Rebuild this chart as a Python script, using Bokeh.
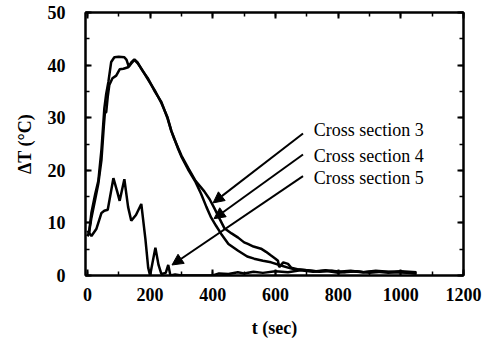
from bokeh.plotting import figure
from bokeh.models import (LinearAxis, Arrow, NormalHead, Label, Range1d,
                          SingleIntervalTicker)
from bokeh.embed import file_html
from bokeh.resources import INLINE

# ---- data ----
t_cs3 = [0, 5, 13, 25, 35, 45, 52, 56, 60, 65, 70, 80, 92, 103, 115, 130, 140, 150,
         160, 175, 194, 215, 236, 255, 268, 277, 290, 300, 321, 345, 373, 390, 405,
         420, 437, 460, 481, 500, 512, 530, 554, 570, 586, 600, 608, 612, 625, 640,
         650, 670, 700, 730, 760, 800, 840, 880, 920, 960, 1000, 1030, 1050]
dT_cs3 = [7.5, 8, 11, 14.5, 17.5, 22, 28, 31, 31, 34, 36.2, 37.5, 38, 39.2, 39.3, 39.6, 40.5, 41.1,
          40.5, 39, 37.4, 35, 33, 30, 27.4, 26, 24.2, 22.8, 20.5, 18, 16, 14.5, 12.8,
          11, 9, 8, 7.2, 6.3, 6, 5.5, 5.1, 4.5, 3.8, 3.2, 2.8, 1.6, 2.5, 2.2,
          1.5, 1.2, 1.0, 0.8, 1.0, 0.7, 0.9, 0.6, 0.8, 0.5, 0.7, 0.5, 0.4]

t_cs4 = [0, 5, 13, 25, 35, 45, 54, 60, 67, 76, 86, 100, 118, 125, 132, 140, 150,
         160, 175, 194, 215, 236, 255, 268, 277, 290, 300, 321, 345, 363, 380, 395,
         410, 427, 450, 481, 510, 532, 560, 586, 618, 640, 660, 700, 740, 780, 820,
         860, 900, 940, 980, 1020, 1050]
dT_cs4 = [7.5, 8, 12, 15.5, 18, 24, 31.7, 34.5, 36.8, 40.6, 41.5, 41.6, 41.5, 41, 39.7, 40.3, 41.0,
          40.4, 39.1, 37.2, 35.2, 32.8, 30.2, 27.5, 26.1, 24.0, 22.6, 20.2, 17.8, 15.5, 13, 11,
          9.5, 7.9, 6, 4.7, 3.6, 3.2, 2.8, 2.5, 1.9, 1.5, 1.2, 1.0, 0.7, 0.9, 0.6,
          0.8, 0.5, 0.7, 0.6, 0.5, 0.4]

t_cs5 = [0, 13, 29, 45, 54, 65, 83, 95, 103, 118, 130, 140, 155, 172, 185, 194, 200,
         217, 227, 236, 250, 258, 265, 280, 300, 350, 400, 420, 450, 480, 500, 530,
         560, 600, 640, 680, 720, 760, 800, 840, 880, 920, 960, 1000, 1050]
dT_cs5 = [8.5, 7.5, 8.9, 11.9, 12.3, 12.5, 18.5, 16, 14.2, 18.3, 13, 10.4, 11.5, 13.6, 7, 1.5, 0,
          5.3, 2, 0.3, 0.5, 2, 0, 0.2, 0, 0, 0, 0.4, 0.3, 0.6, 0.4, 0.7,
          0.5, 0.8, 0.6, 1.0, 0.7, 0.9, 0.5, 0.8, 0.6, 0.9, 0.7, 0.8, 0.6]

series_labels = ["Cross section 3", "Cross section 4", "Cross section 5"]
label_t = 722
label_dT = [27.7, 22.8, 18.5]
arrow_start_t = [688, 688, 688]
arrow_start_dT = [27.0, 23.0, 18.9]
arrow_end_t = [401, 404, 270]
arrow_end_dT = [13.8, 10.8, 2.0]

FONT = "Liberation Serif"

p = figure(frame_width=378, frame_height=263,
           x_range=Range1d(-6, 1200), y_range=Range1d(0, 50),
           output_backend="svg", toolbar_location=None,
           min_border_left=85, min_border_right=25, min_border_top=12, min_border_bottom=63)
p.grid.visible = False
p.outline_line_color = "black"
p.outline_line_width = 2
p.background_fill_color = "white"

xt = SingleIntervalTicker(interval=200, num_minor_ticks=2)
yt = SingleIntervalTicker(interval=10, num_minor_ticks=2)

def style(ax, show_labels):
    ax.axis_line_color = "black"
    ax.axis_line_width = 2
    ax.major_tick_in = 6
    ax.major_tick_out = 0
    ax.minor_tick_in = 4
    ax.minor_tick_out = 0
    ax.major_tick_line_width = 2
    ax.minor_tick_line_width = 1.5
    if show_labels:
        ax.major_label_text_font = FONT
        ax.major_label_text_font_style = "bold"
        ax.major_label_text_font_size = "18px"
        ax.major_label_text_color = "black"
        ax.axis_label_text_font = FONT
        ax.axis_label_text_font_style = "bold"
        ax.axis_label_text_font_size = "18px"
        ax.axis_label_text_color = "black"
    else:
        ax.major_label_text_color = None
        ax.major_label_standoff = 0

p.xaxis.ticker = xt
p.yaxis.ticker = yt
style(p.xaxis[0], True)
style(p.yaxis[0], True)
p.xaxis.axis_label = "t (sec)"
p.yaxis.axis_label = "ΔT (°C)"
p.xaxis.major_label_standoff = 12
p.xaxis.axis_label_standoff = 14
p.yaxis.major_label_standoff = 20
p.yaxis.axis_label_standoff = 10

top = LinearAxis(ticker=SingleIntervalTicker(interval=200, num_minor_ticks=2))
style(top, False)
p.add_layout(top, "above")
right = LinearAxis(ticker=SingleIntervalTicker(interval=10, num_minor_ticks=2))
style(right, False)
p.add_layout(right, "right")

for tt, yy in [(t_cs3, dT_cs3), (t_cs4, dT_cs4), (t_cs5, dT_cs5)]:
    p.line(tt, yy, line_color="black", line_width=2.5)

for i in range(3):
    p.add_layout(Arrow(end=NormalHead(size=11, fill_color="black", line_color="black"),
                       x_start=arrow_start_t[i], y_start=arrow_start_dT[i],
                       x_end=arrow_end_t[i], y_end=arrow_end_dT[i],
                       line_color="black", line_width=2))
    p.add_layout(Label(x=label_t, y=label_dT[i], text=series_labels[i],
                       text_font=FONT, text_font_size="18px", text_color="black",
                       text_baseline="middle", text_align="left"))

open("out.html", "w").write(file_html(p, INLINE))
